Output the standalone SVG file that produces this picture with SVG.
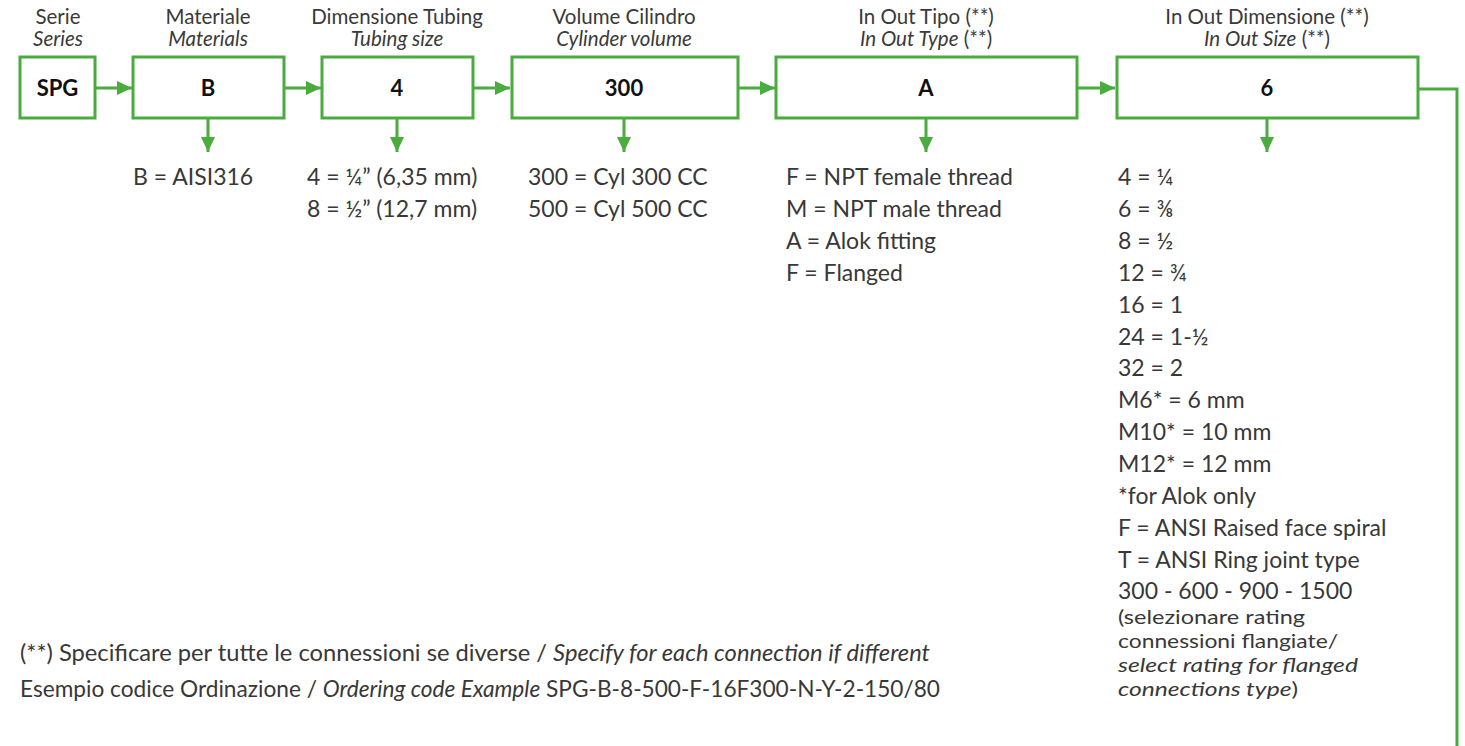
<svg xmlns="http://www.w3.org/2000/svg" width="1465" height="746" viewBox="0 0 1465 746">
<defs>
<marker id="ah" markerWidth="15" markerHeight="14" refX="15" refY="7" orient="auto" markerUnits="userSpaceOnUse" viewBox="0 0 15 14"><path d="M0,0 L15,7 L0,14 Z" fill="#4aab3e"/></marker>
<style>
.box{fill:#fff;stroke:#4aab3e;stroke-width:3}
.ln{stroke:#4aab3e;stroke-width:3;fill:none}
.hd{font-family:Lato,"Liberation Sans",sans-serif;font-size:20.5px;fill:#3a3a3a;text-anchor:middle}
.lb{font-family:Lato,"Liberation Sans",sans-serif;font-size:22px;font-weight:bold;fill:#111;text-anchor:middle}
.tx{font-family:Lato,"Liberation Sans",sans-serif;font-size:23px;fill:#383838}
.sm{font-family:Lato,"Liberation Sans",sans-serif;font-size:20px;fill:#383838}
.it{font-style:italic}
</style>
</defs>
<rect width="1465" height="746" fill="#fff"/>
<g id="connectors">
<line class="ln" x1="95" y1="88" x2="132" y2="88" marker-end="url(#ah)"/>
<line class="ln" x1="284" y1="88" x2="321" y2="88" marker-end="url(#ah)"/>
<line class="ln" x1="473" y1="88" x2="510" y2="88" marker-end="url(#ah)"/>
<line class="ln" x1="738" y1="88" x2="775" y2="88" marker-end="url(#ah)"/>
<line class="ln" x1="1077" y1="88" x2="1115" y2="88" marker-end="url(#ah)"/>
<polyline class="ln" points="1418,89 1457,89 1457,746"/>
<line class="ln" x1="208" y1="118" x2="208" y2="152" marker-end="url(#ah)"/>
<line class="ln" x1="397" y1="118" x2="397" y2="152" marker-end="url(#ah)"/>
<line class="ln" x1="624" y1="118" x2="624" y2="152" marker-end="url(#ah)"/>
<line class="ln" x1="926" y1="118" x2="926" y2="152" marker-end="url(#ah)"/>
<line class="ln" x1="1267" y1="118" x2="1267" y2="152" marker-end="url(#ah)"/>
</g>
<g id="serie">
<text class="hd" x="58" y="24">Serie</text>
<text class="hd it" x="58" y="46">Series</text>
<rect class="box" x="20" y="57" width="75" height="61"/>
<text class="lb" x="57.5" y="96">SPG</text>
</g>
<g id="materiale">
<text class="hd" x="208" y="24">Materiale</text>
<text class="hd it" x="208" y="46">Materials</text>
<rect class="box" x="133" y="57" width="151" height="61"/>
<text class="lb" x="208" y="96">B</text>
<text class="tx" x="133" y="185">B = AISI316</text>
</g>
<g id="tubing">
<text class="hd" x="397" y="24">Dimensione Tubing</text>
<text class="hd it" x="397" y="46">Tubing size</text>
<rect class="box" x="322" y="57" width="151" height="61"/>
<text class="lb" x="397" y="96">4</text>
<text class="tx" x="307" y="185">4 = ¼” (6,35 mm)</text>
<text class="tx" x="307" y="217">8 = ½” (12,7 mm)</text>
</g>
<g id="volume">
<text class="hd" x="624" y="24">Volume Cilindro</text>
<text class="hd it" x="624" y="46">Cylinder volume</text>
<rect class="box" x="512" y="57" width="226" height="61"/>
<text class="lb" x="624" y="96">300</text>
<text class="tx" x="528" y="185">300 = Cyl 300 CC</text>
<text class="tx" x="528" y="217">500 = Cyl 500 CC</text>
</g>
<g id="tipo">
<text class="hd" x="926" y="24">In Out Tipo (**)</text>
<text class="hd" x="926" y="46"><tspan class="it">In Out Type</tspan> (**)</text>
<rect class="box" x="776" y="57" width="301" height="61"/>
<text class="lb" x="926" y="96">A</text>
<text class="tx" x="786" y="185">F = NPT female thread</text>
<text class="tx" x="786" y="217">M = NPT male thread</text>
<text class="tx" x="786" y="249">A = Alok fitting</text>
<text class="tx" x="786" y="281">F = Flanged</text>
</g>
<g id="dimensione">
<text class="hd" x="1267" y="24">In Out Dimensione (**)</text>
<text class="hd" x="1267" y="46"><tspan class="it">In Out Size</tspan> (**)</text>
<rect class="box" x="1117" y="57" width="301" height="61"/>
<text class="lb" x="1267" y="96">6</text>
<text class="tx" x="1118" y="185">4 = ¼</text>
<text class="tx" x="1118" y="217">6 = ⅜</text>
<text class="tx" x="1118" y="249">8 = ½</text>
<text class="tx" x="1118" y="281">12 = ¾</text>
<text class="tx" x="1118" y="313">16 = 1</text>
<text class="tx" x="1118" y="345">24 = 1-½</text>
<text class="tx" x="1118" y="376">32 = 2</text>
<text class="tx" x="1118" y="408">M6* = 6 mm</text>
<text class="tx" x="1118" y="440">M10* = 10 mm</text>
<text class="tx" x="1118" y="472">M12* = 12 mm</text>
<text class="tx" x="1118" y="504">*for Alok only</text>
<text class="tx" x="1118" y="536">F = ANSI Raised face spiral</text>
<text class="tx" x="1118" y="568">T = ANSI Ring joint type</text>
<text class="tx" x="1118" y="599">300 - 600 - 900 - 1500</text>
<text class="sm" x="1118" y="624" textLength="187" lengthAdjust="spacingAndGlyphs">(selezionare rating</text>
<text class="sm" x="1118" y="648" textLength="220" lengthAdjust="spacingAndGlyphs">connessioni flangiate/</text>
<text class="sm it" x="1118" y="672" textLength="240" lengthAdjust="spacingAndGlyphs">select rating for flanged</text>
<text class="sm" x="1118" y="696" textLength="180" lengthAdjust="spacingAndGlyphs"><tspan class="it">connections type</tspan>)</text>
</g>
<g id="notes">
<text class="tx" x="20" y="661" textLength="910" lengthAdjust="spacingAndGlyphs">(**) Specificare per tutte le connessioni se diverse / <tspan class="it">Specify for each connection if different</tspan></text>
<text class="tx" x="20" y="697" textLength="920" lengthAdjust="spacingAndGlyphs">Esempio codice Ordinazione / <tspan class="it">Ordering code Example</tspan> SPG-B-8-500-F-16F300-N-Y-2-150/80</text>
</g>
</svg>
